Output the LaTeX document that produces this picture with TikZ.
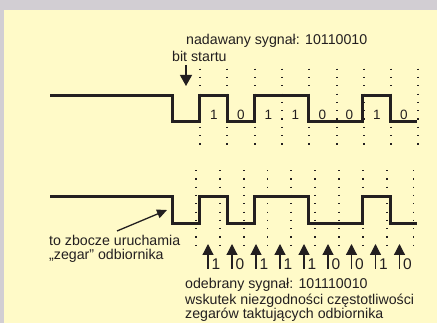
\documentclass[tikz,border=0pt]{standalone}
\usepackage{fontspec}
\setmainfont{Liberation Sans}
\usetikzlibrary{arrows.meta}
\definecolor{panel}{HTML}{FFFAC8}
\definecolor{frame}{HTML}{D2CED3}
\definecolor{ink}{HTML}{231F20}
\begin{document}
\begin{tikzpicture}[x=1pt,y=-1pt,
  signal/.style={draw=ink, line width=3pt, line join=miter},
  gridline/.style={draw=ink, line width=1.2pt, dash pattern=on 1.2pt off 7.1pt},
  txt/.style={font=\fontsize{14.2}{14}\selectfont, text=ink, inner sep=0pt, anchor=base west},
  bitlbl/.style={font=\fontsize{13.5}{14}\selectfont, text=ink, inner sep=0pt},
  rxlbl/.style={font=\fontsize{15.5}{16}\selectfont, text=ink, inner sep=0pt, anchor=base west},
  pointer/.style={draw=ink, line width=1.3pt, -{Triangle[length=11pt,width=12pt]}},
  sample/.style={draw=ink, line width=1.2pt, -{Triangle[length=11pt,width=11pt]}}
]
\useasboundingbox (0,0) rectangle (437,323);
% frame and panel
\fill[frame] (0,0) rectangle (437,323);
\fill[panel] (4,10) rectangle (437,323);

% bit boundaries of the transmitted signal
\foreach \x in {200,227,255,282,309,337,364,391,418}
  \draw[gridline] (\x,68.7) -- (\x,146);
% sampling boundaries of the receiver clock
\foreach \x in {196,220,244,267.5,291,315,339,363,387,413.5}
  \draw[gridline] (\x,170.1) -- (\x,250);

% transmitted waveform
\draw[signal] (50,96) -- (172,96) -- (172,122) -- (199.5,122) -- (199.5,96)
  -- (227,96) -- (227,122) -- (254,122) -- (254,96) -- (308,96) -- (308,122)
  -- (362,122) -- (362,96) -- (390,96) -- (390,122) -- (417,122);
% received waveform
\draw[signal] (50,197) -- (172,197) -- (172,224) -- (199.5,224) -- (199.5,197)
  -- (227,197) -- (227,224) -- (254,224) -- (254,197) -- (308,197) -- (308,224)
  -- (362,224) -- (362,197) -- (390,197) -- (390,224) -- (417,224);

% bit values of the transmitted signal
\foreach \x/\b [count=\i] in {214/1,241/0,268.5/1,295.5/1,322.5/0,349.5/0,377/1,404/0}
  \node[bitlbl] (tx\i) at (\x,114.5) {\b};

% headings
\node[txt] (sent) at (186,45) {nadawany sygnał: 10110010};
\node[txt] (start) at (172,62) {bit startu};
\coordinate (startTail) at (186,65);
\coordinate (startTip) at (186,86);
\draw[pointer] (startTail) -- (startTip);

% edge that starts the receiver clock
\node[txt] (edge1) at (49,246) {to zbocze uruchamia};
\node[txt] (edge2) at (49,260) {„zegar” odbiornika};
\coordinate (edgeTail) at (117,231);
\coordinate (edgeTip) at (167,210);
\draw[pointer, -{Triangle[length=10pt,width=9pt]}] (edgeTail) -- (edgeTip);

% receiver sampling instants with the bits read
\foreach \x/\b [count=\i] in {208/1,232/0,256/1,280/1,304/1,328/0,351.5/0,375.5/1,399.5/0}{
  \coordinate (s\i) at (\x,269);
  \coordinate (h\i) at (\x,244);
  \draw[sample] (s\i) -- (h\i);
  \node[rxlbl] (rx\i) at (\x+3.5,269.5) {\b};
}

% result and explanation
\node[txt] (recv) at (185,289) {odebrany sygnał: 101110010};
\node[txt] (why1) at (185,304.5) {wskutek niezgodności częstotliwości};
\node[txt] (why2) at (185,318.5) {zegarów taktujących odbiornika};
\end{tikzpicture}
\end{document}
